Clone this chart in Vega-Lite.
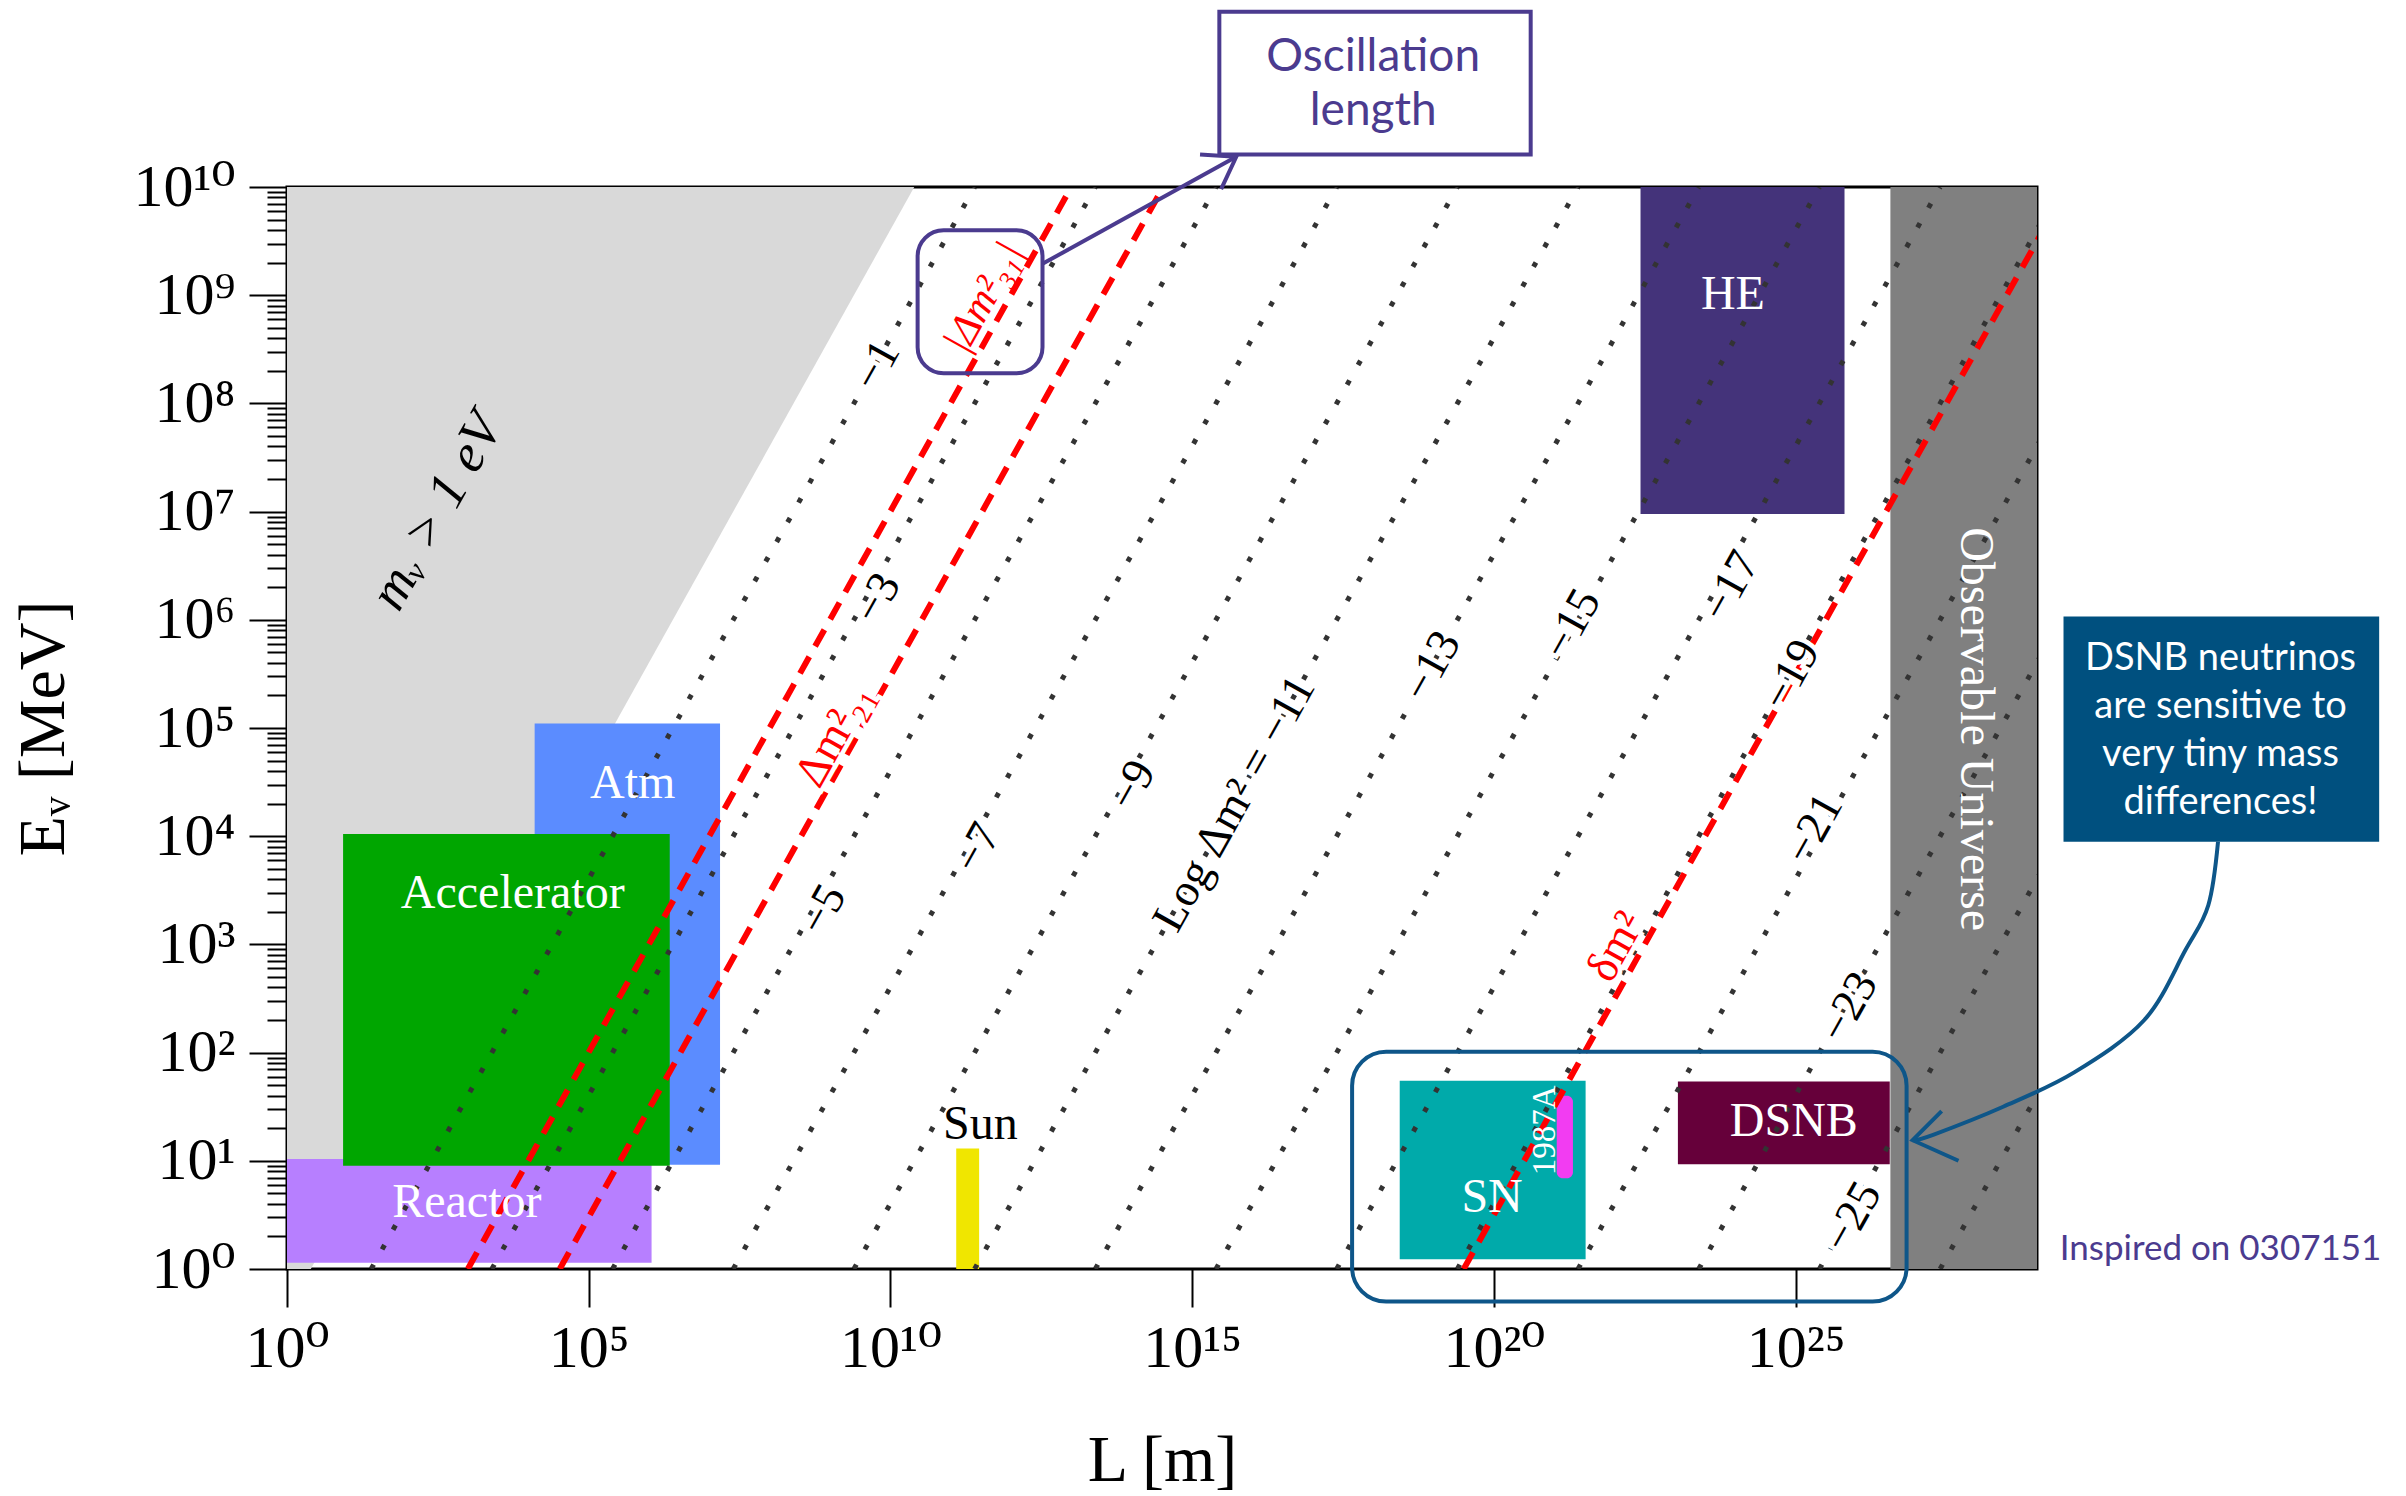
{
  "$schema": "https://vega.github.io/schema/vega-lite/v6.json",
  "width": 1750,
  "height": 1082,
  "autosize": {"type": "none"},
  "padding": {"left": 287, "top": 187, "right": 369, "bottom": 227},
  "background": "white",
  "config": {
    "view": {"stroke": "black", "strokeWidth": 3},
    "font": "Liberation Serif",
    "axis": {"labelFont": "Liberation Serif, DejaVu Serif", "titleFont": "Liberation Serif, DejaVu Serif", "labelColor": "black", "titleColor": "black", "tickColor": "black", "grid": false, "domain": false}
  },
  "datasets": {
    "gray": [{"E": 1, "L": 2.48, "L2": 1}, {"E": 1e10, "L": 2.48e10, "L2": 1}],
    "regions": [
      {"name": "Reactor", "L": 1, "L2": 1.1e6, "E": 1.14, "E2": 10.4},
      {"name": "Atm", "L": 1.27e4, "L2": 1.5e7, "E": 9.2, "E2": 1.1e5},
      {"name": "Accelerator", "L": 8.5, "L2": 2.2e6, "E": 9.0, "E2": 1.05e4},
      {"name": "HE", "L": 2.69e22, "L2": 6.46e25, "E": 9.5e6, "E2": 1e10},
      {"name": "Universe", "L": 3.72e26, "L2": 1e29, "E": 1, "E2": 1e10},
      {"name": "Sun", "L": 1.23e11, "L2": 2.95e11, "E": 1, "E2": 13},
      {"name": "SN", "L": 2.75e18, "L2": 3.31e21, "E": 1.23, "E2": 55},
      {"name": "DSNB", "L": 1.12e23, "L2": 3.63e26, "E": 9.3, "E2": 54}
    ],
    "sn1987a": [{"L": 1.1e21, "L2": 2.04e21, "E": 6.9, "E2": 40}],
    "dots": [
      {"k": 1, "L": 24.8, "E": 1}, {"k": 1, "L": 2.48e11, "E": 1e10},
      {"k": 3, "L": 2480, "E": 1}, {"k": 3, "L": 2.48e13, "E": 1e10},
      {"k": 5, "L": 2.48e5, "E": 1}, {"k": 5, "L": 2.48e15, "E": 1e10},
      {"k": 7, "L": 2.48e7, "E": 1}, {"k": 7, "L": 2.48e17, "E": 1e10},
      {"k": 9, "L": 2.48e9, "E": 1}, {"k": 9, "L": 2.48e19, "E": 1e10},
      {"k": 11, "L": 2.48e11, "E": 1}, {"k": 11, "L": 2.48e21, "E": 1e10},
      {"k": 13, "L": 2.48e13, "E": 1}, {"k": 13, "L": 2.48e23, "E": 1e10},
      {"k": 15, "L": 2.48e15, "E": 1}, {"k": 15, "L": 2.48e25, "E": 1e10},
      {"k": 17, "L": 2.48e17, "E": 1}, {"k": 17, "L": 2.48e27, "E": 1e10},
      {"k": 19, "L": 2.48e19, "E": 1}, {"k": 19, "L": 2.48e29, "E": 1e10},
      {"k": 21, "L": 2.48e21, "E": 1}, {"k": 21, "L": 2.48e31, "E": 1e10},
      {"k": 23, "L": 2.48e23, "E": 1}, {"k": 23, "L": 2.48e33, "E": 1e10},
      {"k": 25, "L": 2.48e25, "E": 1}, {"k": 25, "L": 2.48e35, "E": 1e10},
      {"k": 27, "L": 2.48e27, "E": 1}, {"k": 27, "L": 2.48e37, "E": 1e10}
    ],
    "red": [
      {"id": "31", "L": 992, "E": 1}, {"id": "31", "L": 9.92e12, "E": 1e10},
      {"id": "21", "L": 3.31e4, "E": 1}, {"id": "21", "L": 3.31e14, "E": 1e10},
      {"id": "dm", "L": 3.16e19, "E": 1}, {"id": "dm", "L": 3.16e29, "E": 1e10}
    ],
    "oscRound": [{"L": 2.82e10, "L2": 3.31e12, "E": 1.9e8, "E2": 3.98e9}],
    "snRound": [{"L": 4.47e17, "L2": 6.9e26, "E": 0.5, "E2": 102}],
    "oscBox": [{"L": 2.82e15, "L2": 4.07e20, "E": 2.0e10, "E2": 4.17e11}],
    "oscArrow": [
      {"seg": "shaft", "o": 0, "L": 3.31e12, "E": 1.95e9},
      {"seg": "shaft", "o": 1, "L": 5.37e15, "E": 1.9e10},
      {"seg": "head", "o": 0, "L": 1.35e15, "E": 2.0e10},
      {"seg": "head", "o": 1, "L": 5.37e15, "E": 1.9e10},
      {"seg": "head", "o": 2, "L": 3.02e15, "E": 9.55e9}
    ],
    "noteBox": [{"L": 2.75e29, "L2": 4.68e34, "E": 8.9e3, "E2": 1.07e6}],
    "curve": [
      {"o": 0, "L": 1e32, "E": 8.9e3},
      {"o": 1, "L": 6.9e31, "E": 2.3e3},
      {"o": 2, "L": 2.9e31, "E": 891},
      {"o": 3, "L": 6.0e30, "E": 200},
      {"o": 4, "L": 4.2e29, "E": 66},
      {"o": 5, "L": 2.75e28, "E": 31.6},
      {"o": 6, "L": 1.9e27, "E": 17.4},
      {"o": 7, "L": 8.7e26, "E": 15.5}
    ],
    "curveHead": [
      {"o": 0, "L": 2.63e27, "E": 28.8},
      {"o": 1, "L": 8.7e26, "E": 15.5},
      {"o": 2, "L": 5.0e27, "E": 10}
    ],
    "lineLabels": [
      {"t": "−1", "L": 5.89e9, "E": 2.24e8},
      {"t": "−3", "L": 6.03e9, "E": 1.58e6},
      {"t": "−5", "L": 7.59e8, "E": 2.09e3},
      {"t": "−7", "L": 2.75e11, "E": 7.76e3},
      {"t": "−9", "L": 1.02e14, "E": 2.95e4},
      {"t": "Log Δm² = −11", "L": 5.01e15, "E": 2.0e4},
      {"t": "−13", "L": 9.33e18, "E": 3.72e5},
      {"t": "−15", "L": 1.95e21, "E": 9.12e5},
      {"t": "−17", "L": 8.32e23, "E": 2.04e6},
      {"t": "−19", "L": 8.32e24, "E": 3.09e5},
      {"t": "−21", "L": 2.0e25, "E": 1.17e4},
      {"t": "−23", "L": 7.59e25, "E": 263},
      {"t": "−25", "L": 8.71e25, "E": 3.02}
    ],
    "redUpright": [
      {"t": "Δm²₂₁", "L": 1.17e9, "E": 8.7e4},
      {"t": "δm²", "L": 1.05e22, "E": 955}
    ],
    "redItalic": [{"t": "|Δm²₃₁|", "L": 3.47e11, "E": 9.55e8}],
    "massLabel": [{"t": "mᵥ > 1 eV", "L": 309, "E": 1e7}],
    "whiteLabels": [
      {"t": "Atm", "L": 5.37e5, "E": 3.02e4},
      {"t": "Accelerator", "L": 5.5e3, "E": 2.95e3},
      {"t": "Reactor", "L": 955, "E": 4.07},
      {"t": "HE", "L": 9.12e23, "E": 1e9},
      {"t": "SN", "L": 9.33e19, "E": 4.57},
      {"t": "DSNB", "L": 9.33e24, "E": 22.9}
    ],
    "universeLabel": [{"t": "Observable Universe", "L": 9.55e27, "E": 9.77e4}],
    "snLabel": [{"t": "1987A", "L": 6.92e20, "E": 19.1}],
    "sunLabel": [{"t": "Sun", "L": 3.09e11, "E": 21.4}],
    "oscText": [{"t": "Oscillation\nlength", "L": 1.0e18, "E": 1.58e11}],
    "noteText": [{"t": "DSNB neutrinos\nare sensitive to\nvery tiny mass\ndifferences!", "L": 1.1e32, "E": 4.37e5}],
    "credit": [{"t": "Inspired on 0307151", "L": 1.1e32, "E": 1.53}]
  },
  "encoding": {
    "x": {
      "field": "L", "type": "quantitative",
      "scale": {"type": "log", "domain": [1, 1e29], "nice": false},
      "title": "L [m]",
      "axis": {
        "values": [1, 1e5, 1e10, 1e15, 1e20, 1e25],
        "labelExpr": "'10' + (round(log(datum.value)/LN10) >= 10 ? substring('⁰¹²³⁴⁵⁶⁷⁸⁹', floor(round(log(datum.value)/LN10)/10), floor(round(log(datum.value)/LN10)/10)+1) : '') + substring('⁰¹²³⁴⁵⁶⁷⁸⁹', round(log(datum.value)/LN10)%10, round(log(datum.value)/LN10)%10+1)",
        "labelFontSize": 60, "labelPadding": 12, "labelFlush": false, "labelOverlap": false,
        "tickSize": 38, "tickWidth": 2,
        "titleFontSize": 66, "titleFontWeight": "normal", "titlePadding": 50
      }
    },
    "y": {
      "field": "E", "type": "quantitative",
      "scale": {"type": "log", "domain": [1, 1e10], "nice": false},
      "title": "Eᵥ [MeV]",
      "axis": {
        "values": [1,2,3,4,5,6,7,8,9,10,20,30,40,50,60,70,80,90,100,200,300,400,500,600,700,800,900,1000,2000,3000,4000,5000,6000,7000,8000,9000,1e4,2e4,3e4,4e4,5e4,6e4,7e4,8e4,9e4,1e5,2e5,3e5,4e5,5e5,6e5,7e5,8e5,9e5,1e6,2e6,3e6,4e6,5e6,6e6,7e6,8e6,9e6,1e7,2e7,3e7,4e7,5e7,6e7,7e7,8e7,9e7,1e8,2e8,3e8,4e8,5e8,6e8,7e8,8e8,9e8,1e9,2e9,3e9,4e9,5e9,6e9,7e9,8e9,9e9,1e10],
        "labelExpr": "abs(log(datum.value)/LN10 - round(log(datum.value)/LN10)) < 0.001 ? '10' + (round(log(datum.value)/LN10) >= 10 ? substring('⁰¹²³⁴⁵⁶⁷⁸⁹', floor(round(log(datum.value)/LN10)/10), floor(round(log(datum.value)/LN10)/10)+1) : '') + substring('⁰¹²³⁴⁵⁶⁷⁸⁹', round(log(datum.value)/LN10)%10, round(log(datum.value)/LN10)%10+1) : ''",
        "labelFontSize": 60, "labelPadding": 14, "labelOverlap": false,
        "tickSize": {"expr": "abs(log(datum.value)/LN10 - round(log(datum.value)/LN10)) < 0.001 ? 38 : 20"},
        "tickWidth": 2,
        "titleFontSize": 66, "titleFontWeight": "normal", "titlePadding": 55
      }
    }
  },
  "layer": [
    {"data": {"name": "gray"}, "mark": {"type": "area", "orient": "horizontal", "color": "#d9d9d9"}, "encoding": {"x2": {"field": "L2"}}},
    {"data": {"name": "regions"}, "mark": {"type": "rect"}, "encoding": {
      "x2": {"field": "L2"}, "y2": {"field": "E2"},
      "color": {"field": "name", "type": "nominal", "legend": null, "scale": {
        "domain": ["Reactor", "Atm", "Accelerator", "HE", "Universe", "Sun", "SN", "DSNB"],
        "range": ["#b77fff", "#5b8cff", "#00a600", "#44337a", "#808080", "#f0e600", "#00aaaa", "#66003a"]}}}},
    {"data": {"name": "sn1987a"}, "mark": {"type": "rect", "color": "#f23cf2", "cornerRadius": 6}, "encoding": {"x2": {"field": "L2"}, "y2": {"field": "E2"}}},
    {"data": {"name": "dots"}, "mark": {"type": "line", "clip": true, "color": "#333333", "strokeWidth": 5, "strokeDash": [5, 17.5], "strokeCap": "butt"}, "encoding": {"detail": {"field": "k", "type": "nominal"}}},
    {"data": {"name": "red"}, "mark": {"type": "line", "clip": true, "color": "#ff0000", "strokeWidth": 6, "strokeDash": [19, 12], "strokeCap": "butt"}, "encoding": {"detail": {"field": "id", "type": "nominal"}}},
    {"data": {"name": "oscRound"}, "mark": {"type": "rect", "filled": false, "color": "#4b3b8f", "strokeWidth": 4, "cornerRadius": 26}, "encoding": {"x2": {"field": "L2"}, "y2": {"field": "E2"}}},
    {"data": {"name": "snRound"}, "mark": {"type": "rect", "filled": false, "color": "#0e5689", "strokeWidth": 4, "cornerRadius": 34}, "encoding": {"x2": {"field": "L2"}, "y2": {"field": "E2"}}},
    {"data": {"name": "oscBox"}, "mark": {"type": "rect", "fill": "white", "stroke": "#4b3b8f", "strokeWidth": 4}, "encoding": {"x2": {"field": "L2"}, "y2": {"field": "E2"}}},
    {"data": {"name": "oscArrow"}, "mark": {"type": "line", "color": "#4b3b8f", "strokeWidth": 4}, "encoding": {"detail": {"field": "seg", "type": "nominal"}, "order": {"field": "o", "type": "quantitative"}}},
    {"data": {"name": "noteBox"}, "mark": {"type": "rect", "color": "#00507f"}, "encoding": {"x2": {"field": "L2"}, "y2": {"field": "E2"}}},
    {"data": {"name": "curve"}, "mark": {"type": "line", "color": "#0e5689", "strokeWidth": 4, "interpolate": "cardinal"}, "encoding": {"order": {"field": "o", "type": "quantitative"}}},
    {"data": {"name": "curveHead"}, "mark": {"type": "line", "color": "#0e5689", "strokeWidth": 4}, "encoding": {"order": {"field": "o", "type": "quantitative"}}},
    {"data": {"name": "lineLabels"}, "mark": {"type": "text", "font": "Liberation Serif", "fontSize": 46, "fill": "white", "stroke": "white", "strokeWidth": 9, "angle": -60.8, "align": "center", "baseline": "middle"}, "encoding": {"text": {"field": "t"}}},
    {"data": {"name": "redUpright"}, "mark": {"type": "text", "font": "Liberation Serif", "fontSize": 46, "fill": "white", "stroke": "white", "strokeWidth": 9, "angle": -60.8, "align": "center", "baseline": "middle"}, "encoding": {"text": {"field": "t"}}},
    {"data": {"name": "lineLabels"}, "mark": {"type": "text", "font": "Liberation Serif", "fontSize": 46, "color": "black", "angle": -60.8, "align": "center", "baseline": "middle"}, "encoding": {"text": {"field": "t"}}},
    {"data": {"name": "redUpright"}, "mark": {"type": "text", "font": "Liberation Serif", "fontSize": 46, "color": "#ff0000", "angle": -60.8, "align": "center", "baseline": "middle"}, "encoding": {"text": {"field": "t"}}},
    {"data": {"name": "redItalic"}, "mark": {"type": "text", "font": "Liberation Serif", "fontStyle": "italic", "fontSize": 42, "color": "#ff0000", "angle": -60.8, "align": "center", "baseline": "middle"}, "encoding": {"text": {"field": "t"}}},
    {"data": {"name": "massLabel"}, "mark": {"type": "text", "font": "Liberation Serif", "fontStyle": "italic", "fontSize": 54, "color": "black", "angle": -60.8, "align": "center", "baseline": "middle"}, "encoding": {"text": {"field": "t"}}},
    {"data": {"name": "whiteLabels"}, "mark": {"type": "text", "font": "Liberation Serif", "fontSize": 48, "color": "white", "align": "center", "baseline": "middle"}, "encoding": {"text": {"field": "t"}}},
    {"data": {"name": "universeLabel"}, "mark": {"type": "text", "font": "Liberation Serif", "fontSize": 48, "color": "white", "angle": 90, "align": "center", "baseline": "middle"}, "encoding": {"text": {"field": "t"}}},
    {"data": {"name": "snLabel"}, "mark": {"type": "text", "font": "Liberation Serif", "fontSize": 33, "color": "white", "angle": -90, "align": "center", "baseline": "middle"}, "encoding": {"text": {"field": "t"}}},
    {"data": {"name": "sunLabel"}, "mark": {"type": "text", "font": "Liberation Serif", "fontSize": 48, "color": "black", "align": "center", "baseline": "middle"}, "encoding": {"text": {"field": "t"}}},
    {"data": {"name": "oscText"}, "mark": {"type": "text", "font": "Lato", "fontSize": 46, "lineHeight": 54, "lineBreak": "\n", "color": "#4b3b8f", "align": "center", "baseline": "middle"}, "encoding": {"text": {"field": "t"}}},
    {"data": {"name": "noteText"}, "mark": {"type": "text", "font": "Lato", "fontSize": 38, "lineHeight": 48, "lineBreak": "\n", "color": "white", "align": "center", "baseline": "middle"}, "encoding": {"text": {"field": "t"}}},
    {"data": {"name": "credit"}, "mark": {"type": "text", "font": "Lato", "fontSize": 35, "color": "#4b3b8f", "align": "center", "baseline": "middle"}, "encoding": {"text": {"field": "t"}}}
  ]
}
